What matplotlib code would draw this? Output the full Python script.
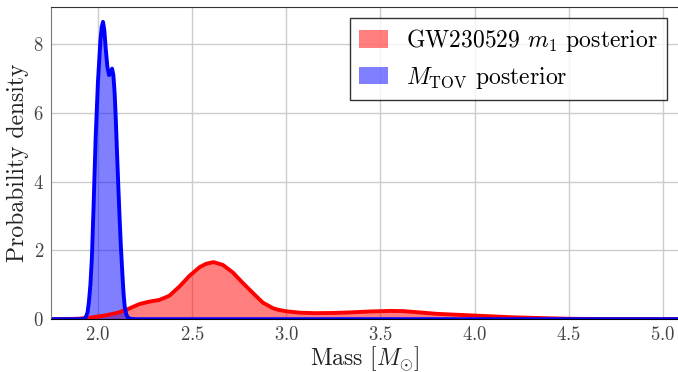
import matplotlib
matplotlib.use("Agg")
import matplotlib.pyplot as plt

# GW230529 m1 posterior (density)
m1_mass = [1.75, 1.85, 1.90, 1.95, 2.00, 2.05, 2.10, 2.15, 2.22, 2.273, 2.326, 2.379,
           2.433, 2.486, 2.539, 2.574, 2.613, 2.663, 2.716, 2.77, 2.823, 2.876, 2.929,
           2.96, 3.00, 3.07, 3.15, 3.25, 3.35, 3.45, 3.55, 3.62, 3.70, 3.80, 3.90,
           4.00, 4.10, 4.20, 4.30, 4.40, 4.50, 4.60, 4.80, 5.10]
m1_dens = [0.0, 0.005, 0.015, 0.04, 0.075, 0.12, 0.18, 0.27, 0.44, 0.51, 0.56, 0.68,
           0.95, 1.26, 1.51, 1.61, 1.66, 1.58, 1.36, 1.05, 0.76, 0.48, 0.32,
           0.27, 0.23, 0.19, 0.175, 0.18, 0.20, 0.225, 0.24, 0.235, 0.20, 0.155, 0.13,
           0.105, 0.08, 0.055, 0.04, 0.025, 0.012, 0.006, 0.002, 0.0]

# M_TOV posterior
tov_mass = [1.75, 1.90, 1.925, 1.935, 1.945, 1.952, 1.96, 1.968, 1.977, 1.988, 2.0,
            2.013, 2.02, 2.027, 2.034, 2.041, 2.05, 2.059, 2.067, 2.075, 2.082, 2.089,
            2.095, 2.101, 2.108, 2.115, 2.122, 2.13, 2.136, 2.142, 2.15, 2.16, 2.175,
            2.2, 5.10]
tov_dens = [0.0, 0.0, 0.01, 0.05, 0.2, 0.5, 1.0, 1.8, 3.3, 5.3, 6.9,
            8.1, 8.5, 8.65, 8.4, 7.9, 7.35, 7.1, 7.15, 7.29, 7.1, 6.55,
            5.8, 4.9, 3.9, 2.95, 2.1, 1.3, 0.75, 0.37, 0.14, 0.04, 0.01,
            0.0, 0.0]

plt.rcParams["font.family"] = "serif"
plt.rcParams["font.serif"] = ["cmr10"]
plt.rcParams["mathtext.fontset"] = "cm"
plt.rcParams["axes.formatter.use_mathtext"] = True

fig = plt.figure(figsize=(6.78, 3.72), dpi=100)
ax = fig.add_axes([0.075, 0.142, 0.925, 0.839])

ax.fill_between(m1_mass, m1_dens, color="red", alpha=0.5, lw=0,
                label=r"GW230529 $m_1$ posterior")
ax.plot(m1_mass, m1_dens, color="red", lw=2.8, solid_joinstyle="round")
ax.fill_between(tov_mass, tov_dens, color="blue", alpha=0.5, lw=0,
                label=r"$M_{\rm TOV}$ posterior")
ax.plot(tov_mass, tov_dens, color="blue", lw=2.8, solid_joinstyle="round")

ax.set_xlim(1.75, 5.08)
ax.set_ylim(0, 9.08)
ax.set_xticks([2.0, 2.5, 3.0, 3.5, 4.0, 4.5, 5.0])
ax.set_yticks([0, 2, 4, 6, 8])
ax.grid(True, color="#cccccc", lw=1)
ax.set_axisbelow(True)
ax.tick_params(length=0, labelsize=13.5, colors="#444444", pad=5)
ax.spines["left"].set_color("#777777")
ax.spines["top"].set_color("#333333")
ax.spines["right"].set_visible(False)
ax.set_xlabel(r"Mass [$M_{\odot}$]", fontsize=17, color="#222222", labelpad=0)
ax.set_ylabel("Probability density", fontsize=17, color="#222222", labelpad=3)

leg = ax.legend(loc="upper right", fontsize=17, fancybox=False, edgecolor="black",
                handlelength=1.2, handleheight=0.76, handletextpad=0.78,
                borderpad=0.4, labelspacing=0.45, borderaxespad=0.45)
leg.get_frame().set_linewidth(1.0)

fig.savefig("out.png", dpi=100)
